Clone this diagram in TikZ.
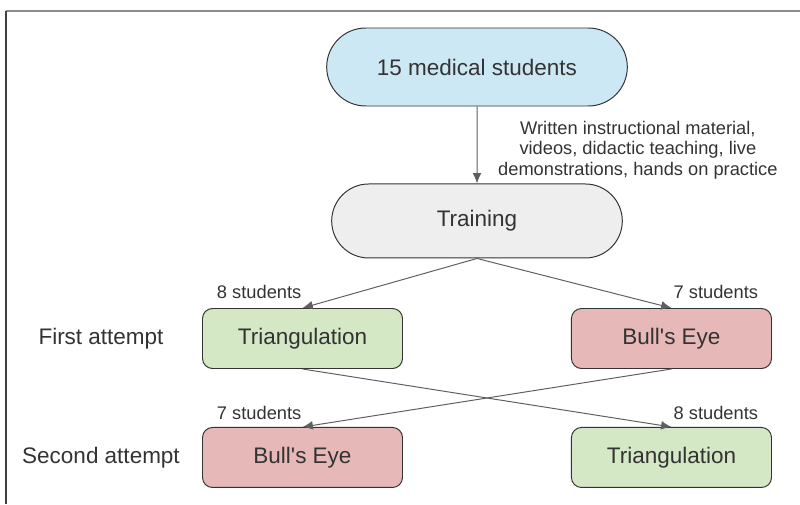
\documentclass[tikz,border=0pt]{standalone}
\usepackage{fontspec}
\setmainfont{Liberation Sans}
\usepackage{tikz}
\usetikzlibrary{arrows.meta,calc,positioning,shapes}

\definecolor{blueFill}{HTML}{CDE8F5}
\definecolor{greyFill}{HTML}{EEEEEE}
\definecolor{greenFill}{HTML}{D5E8C6}
\definecolor{redFill}{HTML}{E6B8B7}
\definecolor{txt}{HTML}{333333}
\definecolor{edge}{HTML}{5F5F5F}

\begin{document}
\begin{tikzpicture}[auto,>={Latex[length=2.6mm,width=2.2mm]},font=\fontsize{16}{19}\selectfont,text=txt]
\tikzstyle{pill} = [draw=txt, rounded rectangle, line width=0.7pt]
\tikzstyle{block} = [draw=txt, rectangle, rounded corners=0.25cm, line width=0.7pt, minimum height=1.5cm, minimum width=5cm]
\tikzstyle{small} = [font=\fontsize{13}{14.5}\selectfont]
\tikzstyle{line} = [draw=edge, line width=0.7pt]

\useasboundingbox (0,0) rectangle (20,12.6);
\draw [line width=1.4pt, draw=black!45] (0.15,12.325) -- (20,12.325);
\draw [line width=1pt, draw=black!75] (0.15,12.325) -- (0.15,0);

\node [pill, fill=blueFill, minimum width=7.75cm, minimum height=1.95cm] (students) at (11.925,10.925) {15 medical students};
\node [pill, fill=greyFill, minimum width=7.5cm, minimum height=1.85cm, below = 1.925cm of students] (training) {Training};
\node [block, fill=greenFill] (tri1) at (7.5625,4.1375) {Triangulation};
\node [block, fill=redFill, right = 4.2cm of tri1] (bull1) {Bull\textquotesingle s Eye};
\node [block, fill=redFill, below = 1.45cm of tri1] (bull2) {Bull\textquotesingle s Eye};
\node [block, fill=greenFill, right = 4.2cm of bull2] (tri2) {Triangulation};

\node (first) at ($(tri1.west)-(2.525,0)$) {First attempt};
\node (second) at ($(bull2.west)-(2.525,0)$) {Second attempt};

\draw [line,->] (students) --node[small, pos=0.565, anchor=west, xshift=0.4cm, align=center]{Written instructional material,\\videos, didactic teaching, live\\demonstrations, hands on practice} (training);
\draw [line,->] (training.south) --node[small, pos=1, anchor=south east, xshift=0.1cm, yshift=0.1cm]{8 students} (tri1.north);
\draw [line,->] (training.south) --node[small, pos=1, anchor=south west, xshift=-0.075cm, yshift=0.1cm]{7 students} (bull1.north);
\draw [line,->] (tri1.south) --node[small, pos=1, anchor=south west, xshift=-0.075cm, yshift=0.05cm]{8 students} (tri2.north);
\draw [line,->] (bull1.south) --node[small, pos=1, anchor=south east, xshift=0.1cm, yshift=0.05cm]{7 students} (bull2.north);
\end{tikzpicture}
\end{document}
